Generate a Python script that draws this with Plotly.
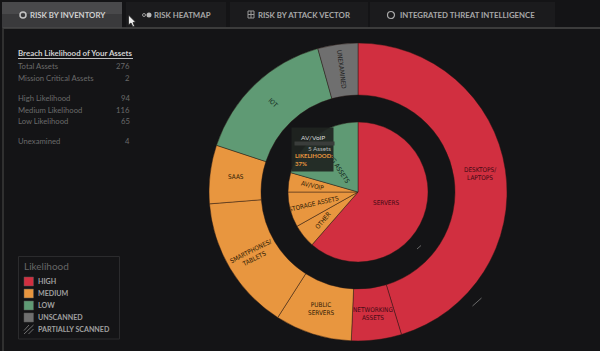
import math
import plotly.graph_objects as go

W, H = 600, 351
# ---- data ----
outer_labels = ["DESKTOPS/<br>LAPTOPS", "NETWORKING<br>ASSETS", "PUBLIC<br>SERVERS", "SMARTPHONES/<br>TABLETS", "SAAS", "IOT", "UNEXAMINED"]
outer_values = [125, 15, 23, 40.5, 17.5, 43, 12]
outer_levels = ["high", "high", "medium", "medium", "medium", "low", "unscanned"]
outer_angles = [0, 0, 0, -27, 0, 45, 83]
inner_labels = ["SERVERS", "OTHER", "STORAGE ASSETS", "AV/VOIP", "NETWORKING ASSETS"]
inner_values = [169.5, 15, 22.5, 12.3, 56.7]
inner_levels = ["high", "medium", "medium", "medium", "low"]
inner_angles = [0, -50, -13, 13, 57]
stat_labels = ["Total Assets", "Mission Critical Assets", "High Likelihood", "Medium Likelihood", "Low Likelihood", "Unexamined"]
stat_values = [276, 2, 94, 116, 65, 4]
tab_labels = ["RISK BY INVENTORY", "RISK HEATMAP", "RISK BY ATTACK VECTOR", "INTEGRATED THREAT INTELLIGENCE"]
legend_labels = ["HIGH", "MEDIUM", "LOW", "UNSCANNED", "PARTIALLY SCANNED"]
colors = {"high": "#d12f40", "medium": "#e8963f", "low": "#5f9a74", "unscanned": "#6f6f6f"}

BG = "#141416"
CX, CY, R_OUT, R_HOLE, R_IN = 358, 192, 149, 97, 70
UI = "Lato"
NARROW = "DejaVu Sans Condensed"

def px(x): return x / W
def py(y): return 1 - y / H

fig = go.Figure()
line = dict(color="rgba(40,25,20,0.65)", width=0.7)
fig.add_trace(go.Pie(values=outer_values, labels=outer_labels, sort=False, direction="clockwise", rotation=0,
                     hole=R_HOLE / R_OUT, textinfo="none", hoverinfo="label+value", showlegend=False,
                     marker=dict(colors=[colors[l] for l in outer_levels], line=line),
                     domain=dict(x=[px(CX - R_OUT), px(CX + R_OUT)], y=[py(CY + R_OUT), py(CY - R_OUT)])))
fig.add_trace(go.Pie(values=inner_values, labels=inner_labels, sort=False, direction="clockwise", rotation=0,
                     textinfo="none", hoverinfo="label+value", showlegend=False,
                     marker=dict(colors=[colors[l] for l in inner_levels], line=line),
                     domain=dict(x=[px(CX - R_IN), px(CX + R_IN)], y=[py(CY + R_IN), py(CY - R_IN)])))

shapes, ann = [], []

def rect(x0, y0, x1, y1, fill, lc=None, lw=0, layer="below"):
    shapes.append(dict(type="rect", xref="paper", yref="paper", x0=px(x0), x1=px(x1), y0=py(y0), y1=py(y1),
                       fillcolor=fill, line=dict(color=lc or fill, width=lw), layer=layer))

def seg(x0, y0, x1, y1, c, w=1, layer="below"):
    shapes.append(dict(type="line", xref="paper", yref="paper", x0=px(x0), x1=px(x1), y0=py(y0), y1=py(y1),
                       line=dict(color=c, width=w), layer=layer))

def ring(xc, yc, r, c, w=1.5, fill="rgba(0,0,0,0)"):
    shapes.append(dict(type="circle", xref="paper", yref="paper", x0=px(xc - r), x1=px(xc + r), y0=py(yc + r), y1=py(yc - r),
                       line=dict(color=c, width=w), fillcolor=fill, layer="above"))

PAD = 2  # annotation box padding, taken out so text starts where asked
def text(x, y, s, size=9, color="#777", anchor="left", font=UI, angle=0, weight=None):
    f = dict(family=font, size=size, color=color)
    if weight:
        f["weight"] = weight
    dx = {"left": -PAD, "right": PAD, "center": 0}[anchor]
    ann.append(dict(xref="paper", yref="paper", x=px(x + dx), y=py(y), text=s, showarrow=False, xanchor=anchor, yanchor="middle",
                    textangle=angle, align="center", font=f))

# tabs and panel
rect(0, 0, 600, 351, BG)
rect(2, 2, 122, 14, "#49494b")
rect(2, 14, 122, 28, "#3a3a3c")
rect(126, 2, 226, 27, "#1b1b1d")
rect(230, 2, 368, 27, "#1b1b1d")
rect(370, 2, 555, 27, "#1b1b1d")
seg(3, 28, 600, 28, "#4a4a4a", 1.5)
seg(3, 28, 3, 351, "#3a3a3a", 1.5)
ring(23, 15, 3, "#c4c4c4", 1.5)
ring(144, 15, 1.5, "#999", 1)
ring(149, 15, 2.5, "#bbb", 0, "#bbb")
rect(248, 11, 254, 18, "rgba(0,0,0,0)", "#999", 1, "above")
seg(248, 14.5, 254, 14.5, "#999", 1, "above")
seg(251, 11, 251, 18, "#999", 1, "above")
ring(391, 15, 3.5, "#aaa", 1.2)
tab_x = [30, 154, 258, 400]
tab_c = ["#d0d0d0", "#a8a8a8", "#a8a8a8", "#a8a8a8"]
for x, s, c in zip(tab_x, tab_labels, tab_c):
    text(x, 15, s, 7.8, c, weight=700)

# cursor
shapes.append(dict(type="path", xref="paper", yref="paper",
                   path="M %f %f L %f %f L %f %f L %f %f L %f %f L %f %f L %f %f Z" % (
                       px(128.5), py(15), px(128.5), py(25), px(131), py(23), px(133), py(27),
                       px(134.5), py(26), px(133), py(22.5), px(135.5), py(22)),
                   fillcolor="#eee", line=dict(color="#222", width=0.8), layer="above"))

# stats
text(18, 53.5, "Breach Likelihood of Your Assets", 7.9, "#d0d0d0", weight=700)
seg(18, 58.5, 133, 58.5, "#c0c0c0", 1)
rows_y = [66, 78, 97.5, 109.5, 121, 141]
for y, lab, val in zip(rows_y, stat_labels, stat_values):
    text(18, y, lab, 7.7, "#6a6a6a")
    text(130, y, str(val), 7.7, "#6a6a6a", "right")

# legend
rect(18.5, 256.5, 119.5, 339, BG, "#2b2b2d", 1)
text(24, 266, "Likelihood", 10, "#666")
leg_y = [281.5, 293.5, 305.5, 317.5, 329.5]
for y, lab, key in zip(leg_y, legend_labels, ["high", "medium", "low", "unscanned", None]):
    if key:
        rect(24, y - 4.5, 33.5, y + 4.5, colors[key], "#555", 0.5)
    text(38, y, lab, 7.1, "#a0a0a0", weight=700)
y = leg_y[4]
seg(24, y + 1, 29, y - 4.5, "#888", 0.8)
seg(24, y + 4.5, 33.5, y - 4.5, "#888", 0.8)
seg(28.5, y + 4.5, 33.5, y - 0.5, "#888", 0.8)

# partially-scanned marks
seg(417, 249, 421, 245.5, "#6a6a6a", 1, "above")
seg(472.5, 306, 481.5, 298, "#6a6a6a", 1, "above")

# slice labels, placed from the values
def labels(values, names, angles, level_keys, radius_of):
    total = sum(values)
    acc = 0
    for v, n, a, k in zip(values, names, angles, level_keys):
        mid = (acc + v / 2) / total * 2 * math.pi
        acc += v
        r = radius_of(n)
        dark = {"high": "#3f0a14", "medium": "#2e1a05", "low": "#10261a", "unscanned": "#1c1c1c"}[k]
        text(CX + r * math.sin(mid), CY - r * math.cos(mid), n, 6.4, dark, "center", NARROW, a)

labels(outer_values, outer_labels, outer_angles, outer_levels, lambda n: (R_OUT + R_HOLE) / 2)
labels(inner_values, inner_labels, inner_angles, inner_levels, lambda n: 30 if n == "SERVERS" else 0.65 * R_IN)

# tooltip, over the labels
ann.append(dict(xref="paper", yref="paper", x=px(291), y=py(127), xanchor="left", yanchor="top", text=" ", showarrow=False,
                width=41, height=43, bgcolor="rgba(32,36,33,0.92)", borderpad=0, font=dict(size=8)))
text(313, 137, "AV/VoIP", 6.5, "#d8d8d8", "center")
ann.append(dict(xref="paper", yref="paper", x=px(294), y=py(143), xanchor="left", yanchor="middle", text=" ",
                showarrow=False, width=37, height=1, bgcolor="#3a3d3b", font=dict(size=1)))
text(331, 148, "5 Assets", 6.3, "#b8b8b8", "right")
text(295, 155.5, "LIKELIHOOD:", 6, "#e8963f", weight=700)
text(295, 163, "37%", 6, "#e8963f", weight=700)

fig.update_layout(width=W, height=H, margin=dict(l=0, r=0, t=0, b=0), paper_bgcolor=BG, plot_bgcolor=BG,
                  showlegend=False, shapes=shapes, annotations=ann)
fig.write_html("out.html", config=dict(displayModeBar=False),
               post_script="document.body.style.margin='0';document.body.style.overflow='hidden';")
